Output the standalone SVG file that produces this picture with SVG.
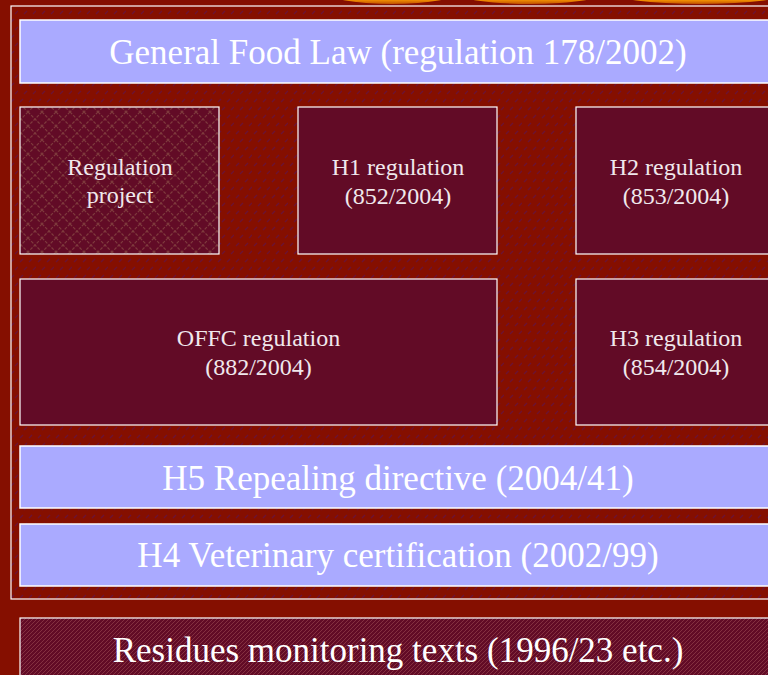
<svg xmlns="http://www.w3.org/2000/svg" width="768" height="675" viewBox="0 0 768 675">
<defs>
<style>
.bar{fill:#AAAAFF;stroke:#FFFFFF;stroke-width:1.5}
.box{fill:#620B26;stroke:#FFFFFF;stroke-width:1.2}
.big{font-family:"Liberation Serif","Times New Roman",serif;font-size:35px;fill:#FFFFFF;text-anchor:middle}
.sm{font-family:"Liberation Serif","Times New Roman",serif;font-size:24px;fill:#F0E8EC;text-anchor:middle}
</style>
<pattern id="dash" width="18" height="16" patternUnits="userSpaceOnUse">
<rect width="18" height="16" fill="#850F00"/>
<line x1="2" y1="6" x2="5" y2="3" stroke="#6A1236" stroke-width="1.2"/>
<line x1="11" y1="6" x2="14" y2="3" stroke="#6A1236" stroke-width="1.2"/>
<line x1="6" y1="14" x2="9" y2="11" stroke="#6A1236" stroke-width="1.2"/>
<line x1="15" y1="14" x2="18" y2="11" stroke="#6A1236" stroke-width="1.2"/>
</pattern>
<pattern id="cross" width="14" height="14" patternUnits="userSpaceOnUse">
<rect width="14" height="14" fill="#620B26"/>
<path d="M0,0 L14,14 M14,0 L0,14" stroke="#7E3A3C" stroke-width="1.2" stroke-dasharray="3,1.5"/>
</pattern>
<pattern id="diag" width="4" height="4" patternUnits="userSpaceOnUse">
<rect width="4" height="4" fill="#620B26"/>
<path d="M-1,1 L1,-1 M0,4 L4,0 M3,5 L5,3" stroke="#843040" stroke-width="1"/>
</pattern>
<linearGradient id="org" x1="0" y1="0" x2="0" y2="1">
<stop offset="0" stop-color="#FFB000"/>
<stop offset="0.8" stop-color="#FFA000"/>
<stop offset="1" stop-color="#C05000"/>
</linearGradient>
</defs>
<rect width="768" height="675" fill="#850F00"/>
<g id="blobs">
<ellipse cx="392" cy="-9" rx="68" ry="13" fill="url(#org)"/>
<ellipse cx="530" cy="-9" rx="78" ry="13" fill="url(#org)"/>
<ellipse cx="700" cy="-8" rx="90" ry="12" fill="url(#org)"/>
</g>
<g id="panel">
<rect x="11" y="6" width="770" height="593" fill="url(#dash)" stroke="#FFFFFF" stroke-width="1.2"/>
</g>
<g id="connectors"></g>
<g id="gfl">
<rect class="bar" x="20" y="20" width="760" height="63"/>
<text class="big" x="398" y="64">General Food Law (regulation 178/2002)</text>
</g>
<g id="regproj">
<rect x="20" y="107" width="199" height="147" fill="url(#cross)" stroke="#FFFFFF" stroke-width="1.2"/>
<text class="sm" x="120" y="175">Regulation</text>
<text class="sm" x="120" y="203">project</text>
</g>
<g id="h1">
<rect class="box" x="298" y="107" width="199" height="147"/>
<text class="sm" x="398" y="175">H1 regulation</text>
<text class="sm" x="398" y="204">(852/2004)</text>
</g>
<g id="h2">
<rect class="box" x="576" y="107" width="200" height="147"/>
<text class="sm" x="676" y="175">H2 regulation</text>
<text class="sm" x="676" y="204">(853/2004)</text>
</g>
<g id="offc">
<rect class="box" x="20" y="279" width="477" height="146"/>
<text class="sm" x="258.5" y="346">OFFC regulation</text>
<text class="sm" x="258.5" y="375">(882/2004)</text>
</g>
<g id="h3">
<rect class="box" x="576" y="279" width="200" height="146"/>
<text class="sm" x="676" y="346">H3 regulation</text>
<text class="sm" x="676" y="375">(854/2004)</text>
</g>
<g id="h5">
<rect class="bar" x="20" y="446" width="760" height="62"/>
<text class="big" x="398" y="490">H5 Repealing directive (2004/41)</text>
</g>
<g id="h4">
<rect class="bar" x="20" y="524" width="760" height="62"/>
<text class="big" x="398" y="567">H4 Veterinary certification (2002/99)</text>
</g>
<g id="residues">
<rect x="20" y="618" width="760" height="70" fill="url(#diag)" stroke="#FFFFFF" stroke-width="1.2"/>
<text class="big" x="398" y="662">Residues monitoring texts (1996/23 etc.)</text>
</g>
</svg>
